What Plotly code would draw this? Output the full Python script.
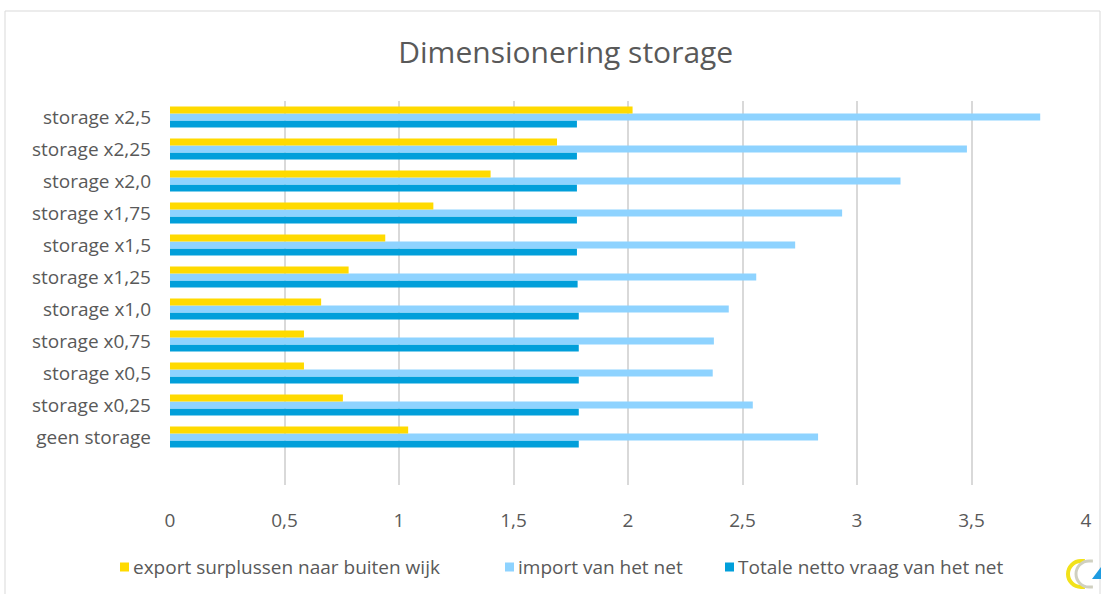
import plotly.graph_objects as go

categories = ["geen storage", "storage x0,25", "storage x0,5", "storage x0,75", "storage x1,0",
              "storage x1,25", "storage x1,5", "storage x1,75", "storage x2,0", "storage x2,25",
              "storage x2,5"]
export_surplus = [1.04, 0.755, 0.585, 0.585, 0.66, 0.78, 0.94, 1.15, 1.40, 1.69, 2.02]
import_net = [2.83, 2.545, 2.37, 2.375, 2.44, 2.56, 2.73, 2.935, 3.19, 3.48, 3.80]
totale_netto = [1.785, 1.785, 1.785, 1.785, 1.785, 1.78, 1.777, 1.777, 1.777, 1.777, 1.777]

names = ["export surplussen naar buiten wijk", "import van het net", "Totale netto vraag van het net"]
colors = ["#FFDA00", "#8ED3FF", "#019FDA"]

# plot-area geometry in pixels
PL, PR, PT, PB = 170, 1086, 101, 485
def px(x):
    return (x - PL) / (PR - PL)
def py(y):
    return (PB - y) / (PB - PT)

fig = go.Figure()
# plotly stacks grouped horizontal bars bottom-up, so add in reverse order
for vals, name, col in [(totale_netto, names[2], colors[2]),
                        (import_net, names[1], colors[1]),
                        (export_surplus, names[0], colors[0])]:
    fig.add_trace(go.Bar(y=categories, x=vals, name=name, orientation="h", showlegend=False,
                         marker=dict(color=col, line=dict(width=0))))

font_family = "'Open Sans', sans-serif"
TXT = "#595959"
FS = 19

shapes = [dict(type="rect", xref="paper", yref="paper", x0=px(5), x1=px(1100),
               y0=py(600), y1=py(11), line=dict(color="#D9D9D9", width=1),
               fillcolor="rgba(0,0,0,0)", layer="below")]
annotations = []

# custom legend: small square + text
legend_pos = [120, 505, 725]
LY = 567
for xpos, name, col in zip(legend_pos, names, colors):
    shapes.append(dict(type="rect", xref="paper", yref="paper", x0=px(xpos), x1=px(xpos + 9),
                       y0=py(LY + 4.5), y1=py(LY - 4.5), fillcolor=col, line=dict(width=0)))
    annotations.append(dict(text=name, xref="paper", yref="paper", x=px(xpos + 11), y=py(LY),
                            xanchor="left", yanchor="middle", showarrow=False,
                            font=dict(size=FS, color=TXT, family=font_family)))

# small logo (bottom right)
def arc_path(cx, cy, r):
    k = 0.5523 * r
    p = f"M {px(cx + 0.3*r)},{py(cy - r)} L {px(cx)},{py(cy - r)} "
    p += f"C {px(cx - k)},{py(cy - r)} {px(cx - r)},{py(cy - k)} {px(cx - r)},{py(cy)} "
    p += f"C {px(cx - r)},{py(cy + k)} {px(cx - k)},{py(cy + r)} {px(cx)},{py(cy + r)} "
    p += f"L {px(cx + 0.3*r)},{py(cy + r)}"
    return p
shapes.append(dict(type="path", xref="paper", yref="paper", path=arc_path(1081, 574, 13),
                   line=dict(color="#F2E21A", width=4)))
shapes.append(dict(type="path", xref="paper", yref="paper", path=arc_path(1089, 574, 13),
                   line=dict(color="#D0D0C0", width=3)))
shapes.append(dict(type="path", xref="paper", yref="paper",
                   path=f"M {px(1092)},{py(579)} L {px(1101)},{py(579)} L {px(1101)},{py(567)} Z",
                   fillcolor="#1E9BE0", line=dict(width=0)))

fig.update_layout(
    width=1105, height=594,
    margin=dict(l=PL, r=1105 - PR, t=PT, b=594 - PB),
    paper_bgcolor="white", plot_bgcolor="white",
    barmode="group", bargap=0.34, bargroupgap=0,
    separators=",.",
    font=dict(family=font_family, color=TXT, size=FS),
    title=dict(text="Dimensionering storage", x=0.512, xanchor="center", y=0.912, yanchor="middle",
               font=dict(size=30, color=TXT, family=font_family)),
    xaxis=dict(range=[0, 4], dtick=0.5, tick0=0, showgrid=True, gridcolor="#D9D9D9", gridwidth=1.5,
               zeroline=False, showline=False, ticks="", ticklabelstandoff=22,
               tickfont=dict(size=FS, color=TXT)),
    yaxis=dict(categoryorder="array", categoryarray=categories, range=[-1.5, 10.5],
               showgrid=False, zeroline=False, showline=False, ticks="", ticklabelstandoff=18,
               tickfont=dict(size=FS, color=TXT)),
    showlegend=False,
    shapes=shapes,
    annotations=annotations,
)

fig.write_html("out.html")
